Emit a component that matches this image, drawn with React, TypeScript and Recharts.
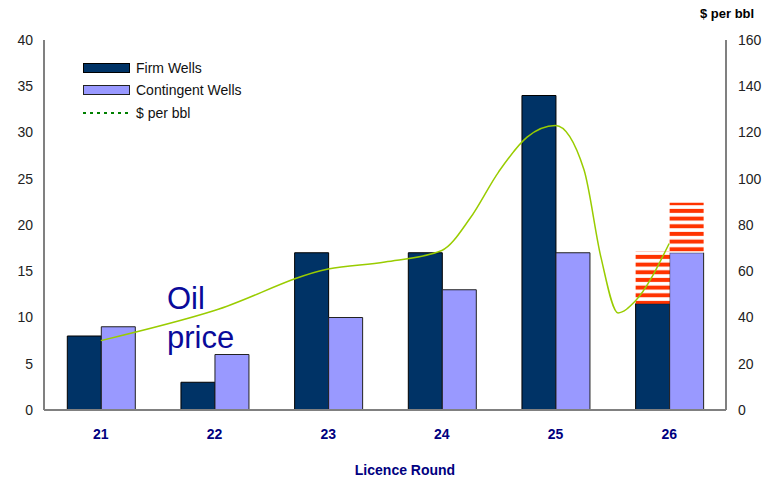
import React from 'react';
import { ComposedChart, Bar, Line, XAxis, YAxis, Legend } from 'recharts';

const categories = ['21', '22', '23', '24', '25', '26'];
const firmWells = [8, 3, 17, 17, 34, 11.5];
const contingentWells = [9, 6, 10, 13, 17, 17];
const firmUpside = [0, 0, 0, 0, 0, 5.7];
const contingentUpside = [0, 0, 0, 0, 0, 5.4];
const perBblSeries = [0, 0, 0, 0, 0, 0];

const oilRound = [21, 22, 23, 23.5, 24, 24.25, 24.5, 24.75, 25, 25.25, 25.4, 25.55, 25.7, 26];
const oilPrice = [30, 43, 61, 64, 69, 83, 103, 118, 123, 104, 66, 42, 47, 72];

const leftTicks = [0, 5, 10, 15, 20, 25, 30, 35, 40];
const rightTicks = [0, 20, 40, 60, 80, 100, 120, 140, 160];

const data = categories.map((c, i) => ({
  round: c,
  firm: firmWells[i],
  firmUp: firmUpside[i],
  cont: contingentWells[i],
  contUp: contingentUpside[i],
  usd: perBblSeries[i],
}));

const oilData = oilRound.map((r, i) => ({ r, p: oilPrice[i] }));

const FONT = '"Liberation Sans", Arial, sans-serif';

const LegendContent = () => {
  const rows = [
    { label: 'Firm Wells', kind: 'rect', fill: '#003366', stroke: '#000' },
    { label: 'Contingent Wells', kind: 'rect', fill: '#9999FF', stroke: '#222' },
    { label: '$ per bbl', kind: 'line', fill: '#008000', stroke: '#008000' },
  ];
  return (
    <div style={{ fontFamily: FONT, fontSize: 14, color: '#111' }}>
      {rows.map((r) => (
        <div key={r.label} style={{ display: 'flex', alignItems: 'center', height: 22.5 }}>
          <svg width={48} height={12} style={{ marginRight: 5 }}>
            {r.kind === 'rect' ? (
              <rect x={0.5} y={1.5} width={46} height={9} fill={r.fill} stroke={r.stroke} strokeWidth={1} />
            ) : (
              <line x1={0} y1={6} x2={47} y2={6} stroke={r.stroke} strokeWidth={2} strokeDasharray="3 4" />
            )}
          </svg>
          <span>{r.label}</span>
        </div>
      ))}
    </div>
  );
};

export default function App() {
  return (
    <div style={{ position: 'absolute', left: 0, top: 0, width: 767, height: 481, background: '#fff' }}>
      <ComposedChart
        width={767}
        height={481}
        data={data}
        margin={{ top: 40, right: 0, left: 0, bottom: 41 }}
        barCategoryGap="20.5%"
        barGap={0}
      >
        <defs>
          <pattern id="hatch" patternUnits="userSpaceOnUse" width={8} height={7.67}>
            <rect x={0} y={0} width={8} height={7.67} fill="#ffffff" />
            <rect x={0} y={1.8} width={8} height={4} fill="#FF3300" />
          </pattern>
        </defs>
        <XAxis
          dataKey="round"
          axisLine={{ stroke: '#808080', strokeWidth: 2 }}
          tickLine={false}
          tickMargin={13}
          height={30}
          tick={{ fill: '#000080', fontSize: 14, fontWeight: 'bold', fontFamily: FONT }}
        />
        <XAxis xAxisId="oil" type="number" dataKey="r" domain={[20.5, 26.5]} allowDataOverflow hide />
        <YAxis
          yAxisId="left"
          domain={[0, 40]}
          ticks={leftTicks}
          width={44}
          axisLine={{ stroke: '#808080', strokeWidth: 2 }}
          tickLine={false}
          tickMargin={5}
          tick={{ fill: '#222', fontSize: 14, fontFamily: FONT }}
        />
        <YAxis
          yAxisId="right"
          orientation="right"
          domain={[0, 160]}
          ticks={rightTicks}
          width={41}
          axisLine={{ stroke: '#808080', strokeWidth: 2 }}
          tickLine={false}
          tickMargin={6}
          tick={{ fill: '#222', fontSize: 14, fontFamily: FONT, textAnchor: 'start' }}
        />
        <Legend
          layout="vertical"
          align="center"
          verticalAlign="middle"
          content={<LegendContent />}
          wrapperStyle={{ position: 'absolute', left: 83, top: 56.5, width: 200 }}
        />
        <Bar yAxisId="left" dataKey="firm" stackId="a" fill="#003366" stroke="#000" strokeWidth={1} isAnimationActive={false} />
        <Bar yAxisId="left" dataKey="cont" stackId="b" fill="#9999FF" stroke="#222" strokeWidth={1} isAnimationActive={false} />
        <Line
          xAxisId="oil"
          yAxisId="right"
          data={oilData}
          dataKey="p"
          type="monotone"
          stroke="#99CC00"
          strokeWidth={1.5}
          dot={false}
          activeDot={false}
          legendType="none"
          isAnimationActive={false}
        />
        <Bar yAxisId="left" dataKey="firmUp" stackId="a" fill="url(#hatch)" legendType="none" isAnimationActive={false} />
        <Bar yAxisId="left" dataKey="contUp" stackId="b" fill="url(#hatch)" legendType="none" isAnimationActive={false} />
        <Line
          yAxisId="right"
          dataKey="usd"
          stroke="#008000"
          strokeWidth={2}
          strokeDasharray="3 3"
          dot={false}
          activeDot={false}
          isAnimationActive={false}
        />
        <text x={167} y={309} fontFamily={FONT} fontSize={31} fill="#0A0A9A">Oil</text>
        <text x={167} y={348} fontFamily={FONT} fontSize={31} fill="#0A0A9A">price</text>
        <text x={700} y={18} fontFamily={FONT} fontSize={13} fontWeight="bold" fill="#000">$ per bbl</text>
        <text x={405} y={475} textAnchor="middle" fontFamily={FONT} fontSize={14} fontWeight="bold" fill="#000080">Licence Round</text>
      </ComposedChart>
    </div>
  );
}
